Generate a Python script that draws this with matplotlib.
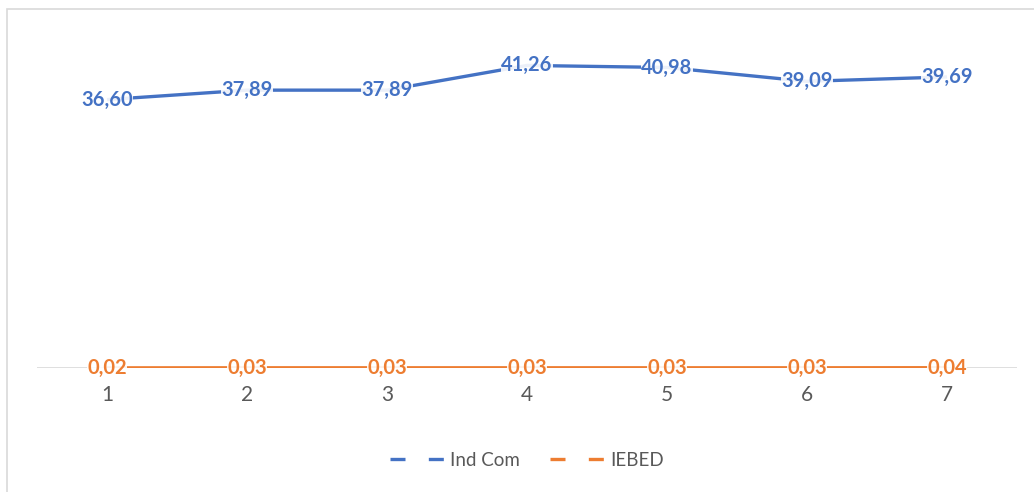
import matplotlib
matplotlib.use("Agg")
import matplotlib.pyplot as plt
from matplotlib.lines import Line2D
from matplotlib.patches import Rectangle

categories = ["1", "2", "3", "4", "5", "6", "7"]
ind_com = [36.60, 37.89, 37.89, 41.26, 40.98, 39.09, 39.69]
iebed = [0.02, 0.03, 0.03, 0.03, 0.03, 0.03, 0.04]
series_names = ["Ind Com", "IEBED"]

BLUE = "#4472C4"
ORANGE = "#ED7D31"
GRAY_TEXT = "#595959"

plt.rcParams["font.family"] = ["Lato", "DejaVu Sans"]

W, H = 1034, 492
fig = plt.figure(figsize=(W / 100, H / 100), dpi=100)
fig.patch.set_facecolor("white")

# chart frame
fig.patches.append(Rectangle((7 / W, -0.1), 1.2, 1 - 9 / H + 0.1,
                             transform=fig.transFigure, fill=False,
                             edgecolor="#D9D9D9", linewidth=1.2))

ax = fig.add_axes([37 / W, 1 - 368 / H, (1017 - 37) / W, (368 - 38) / H])
x = list(range(1, len(categories) + 1))

for vals, color in ((ind_com, BLUE), (iebed, ORANGE)):
    ax.plot(x, vals, color=color, linewidth=2.4, solid_capstyle="butt", zorder=3)
    for xi, v in zip(x, vals):
        ax.text(xi, v, f"{v:.2f}".replace(".", ","), color=color, fontsize=14.5,
                fontweight="bold", ha="center", va="center", zorder=4,
                bbox=dict(facecolor="white", edgecolor="none", pad=0.3, alpha=0.9))

ax.set_xlim(0.5, len(categories) + 0.5)
ax.set_ylim(0, 45)
ax.axhline(0, color="#D9D9D9", linewidth=1.2, zorder=1)
for s in ax.spines.values():
    s.set_visible(False)
ax.set_yticks([])
ax.set_xticks(x)
ax.set_xticklabels(categories, fontsize=15, color=GRAY_TEXT)
ax.tick_params(axis="x", length=0, pad=12)
ax.set_facecolor("none")

handles = [Line2D([0], [0], color=c, linewidth=2.4, linestyle=(0, (4.5, 7.0)))
           for c in (BLUE, ORANGE)]
fig.legend(handles, series_names, loc="center", bbox_to_anchor=(527 / W, 1 - 460 / H),
           ncol=2, frameon=False, fontsize=13.5, labelcolor=GRAY_TEXT,
           handlelength=3.0, handletextpad=0.2, columnspacing=1.6)

fig.savefig("out.png", dpi=100, facecolor="white")
